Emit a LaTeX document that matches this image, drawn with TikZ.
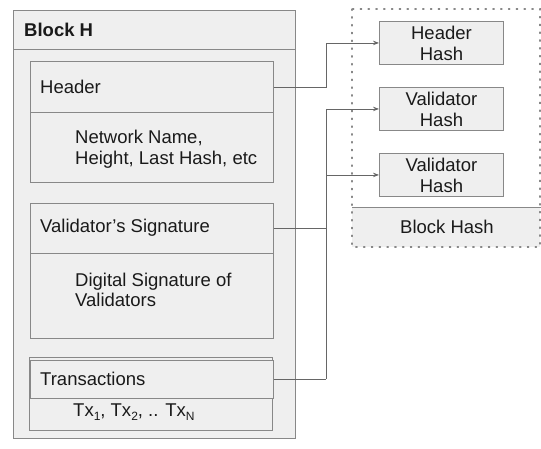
\documentclass[tikz,border=0pt]{standalone}
\usepackage{fontspec}
\setmainfont{Liberation Sans}
\usetikzlibrary{arrows.meta,calc}
\definecolor{boxfill}{HTML}{EFEFEF}
\definecolor{boxline}{HTML}{888888}
\definecolor{connline}{HTML}{666666}
\definecolor{txt}{HTML}{1A1A1A}
\tikzset{
  box/.style={draw=boxline, fill=boxfill, line width=0.9pt, anchor=north west, inner sep=0pt},
  lbl/.style={anchor=west, inner sep=0pt, text=txt, font=\fontsize{18.5}{20.5}\selectfont, align=left},
  clbl/.style={inner sep=0pt, text=txt, font=\fontsize{18.5}{21}\selectfont, align=center},
  conn/.style={draw=connline, line width=0.8pt},
  arr/.style={conn, -{Stealth[length=6pt,width=4.5pt]}},
  dotbox/.style={draw=boxline, line width=1.3pt, dash pattern=on 1.3pt off 6.5pt, line cap=round}
}
\newcommand{\sub}[1]{\raisebox{-0.45ex}{\fontsize{12}{12}\selectfont #1}}
\begin{document}
\begin{tikzpicture}[x=1pt,y=-1pt]
\useasboundingbox (0,0) rectangle (541,449);
% outer block
\node[box, minimum width=282pt, minimum height=428pt] (block) at (13,10) {};
\draw[draw=boxline, line width=0.9pt] (13,49) -- (295,49);
\node[lbl, font=\fontsize{18.5}{20}\selectfont\bfseries] (title) at (24,30) {Block H};
% header
\node[box, minimum width=243pt, minimum height=121pt] (hdr) at (30,61) {};
\node[box, minimum width=243pt, minimum height=51pt] (hdrband) at (30,61) {};
\node[lbl] (hdrtxt) at (40,87) {Header};
\node[lbl] (hdrbody) at (75,149) {Network Name,\\Height, Last Hash, etc};
% validator signature
\node[box, minimum width=243pt, minimum height=135pt] (sig) at (30,203) {};
\node[box, minimum width=243pt, minimum height=50pt] (sigband) at (30,203) {};
\node[lbl] (sigtxt) at (40,228) {Validator’s Signature};
\node[lbl] (sigbody) at (75,290) {Digital Signature of\\Validators};
% transactions
\node[box, minimum width=243pt, minimum height=73pt] (tx) at (29,357) {};
\node[box, minimum width=243pt, minimum height=38pt] (txband) at (30,360) {};
\node[lbl] (txtxt) at (40,379) {Transactions};
\node[lbl] (txbody) at (73,412) {Tx\sub{1}, Tx\sub{2}, .. Tx\sub{N}};
% right side
\node[box, minimum width=188pt, minimum height=40pt, draw=none] (bh) at (352,207) {};
\draw[draw=boxline, line width=0.9pt] (bh.north west) -- (bh.north east);
\node[clbl] (bhtxt) at (447,227) {Block Hash};
\draw[dotbox] (352,9) rectangle (540,247);
\node[box, minimum width=124pt, minimum height=43pt] (hh) at (379,21) {};
\node[clbl] at (hh.center) {Header\\Hash};
\node[box, minimum width=124pt, minimum height=43pt] (vh1) at (379,87) {};
\node[clbl] at (vh1.center) {Validator\\Hash};
\node[box, minimum width=124pt, minimum height=43pt] (vh2) at (379,153) {};
\node[clbl] at (vh2.center) {Validator\\Hash};
% connectors
\coordinate (jx) at (326,0);
\draw[arr] (hdrband.east) -- (hdrband.east -| jx) |- (hh.west);
\draw[conn] (jx |- vh1.west) -- (jx |- txband.east);
\draw[arr] (jx |- vh1.west) -- (vh1.west);
\draw[arr] (jx |- vh2.west) -- (vh2.west);
\draw[conn] (sigband.east) -- (sigband.east -| jx);
\draw[conn] (txband.east) -- (txband.east -| jx);
\end{tikzpicture}
\end{document}
